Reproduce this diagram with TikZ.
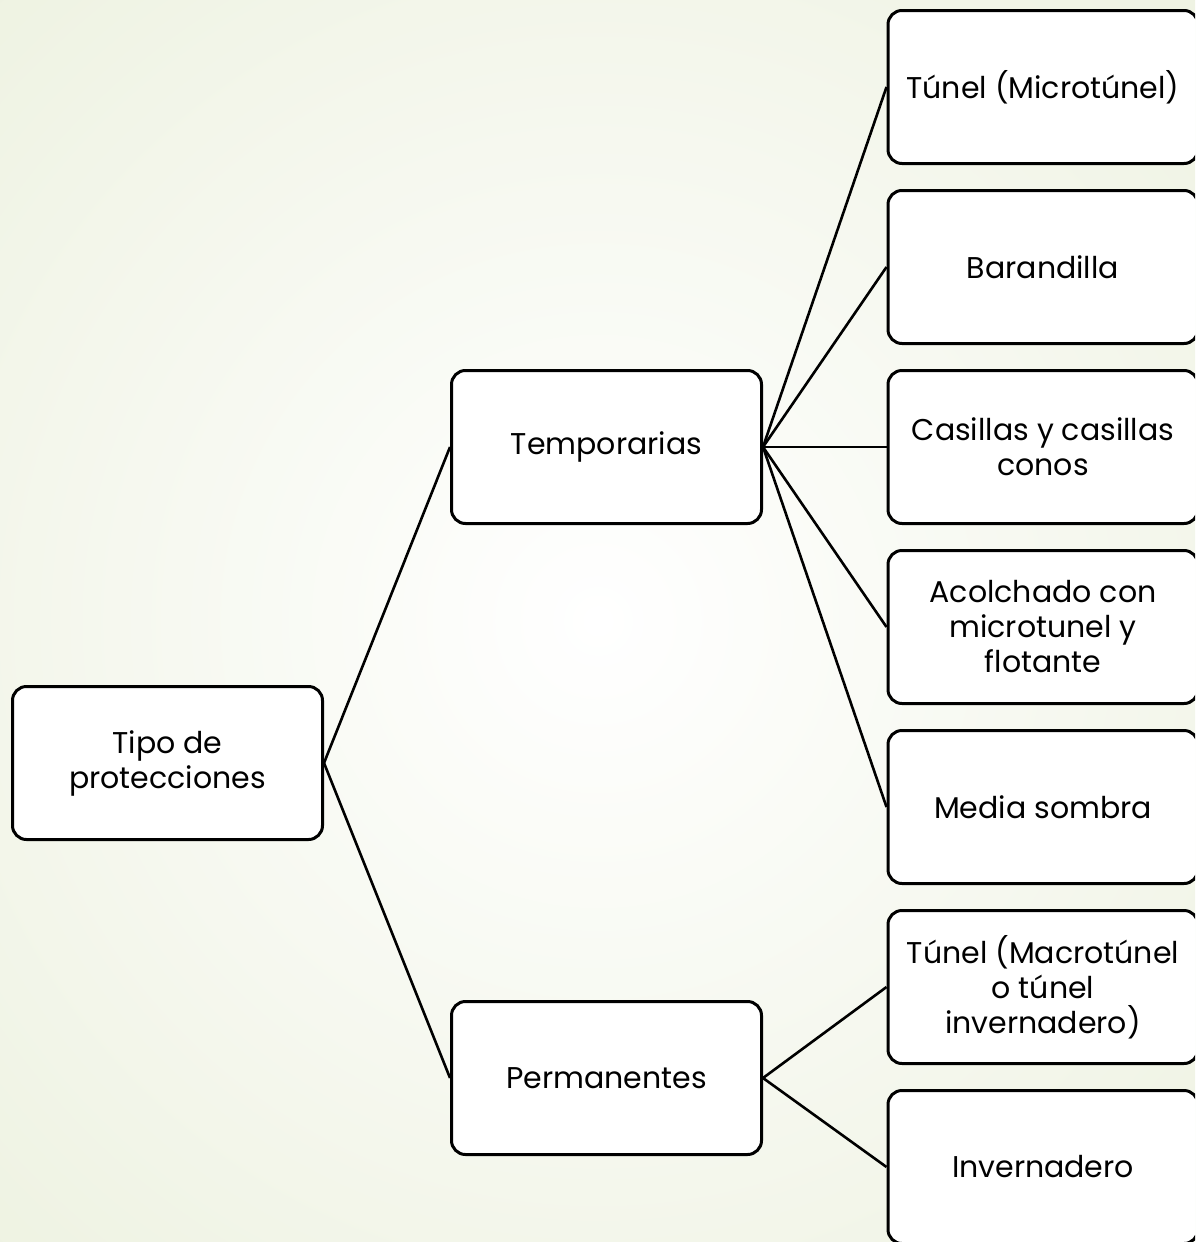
\documentclass[tikz,border=0pt]{standalone}
\usepackage{fontspec}
\setmainfont{Poppins}
\definecolor{fondo}{RGB}{222,230,198}
\tikzset{caja/.style = {draw, rounded corners=7pt, fill=white, line width=1.5pt,
                        minimum width=155pt, minimum height=76.5pt, align=center,
                        font=\fontsize{15}{17.5}\selectfont},
         rama/.style = {line width=1.3pt}
        }

\begin{document}
\begin{tikzpicture}[x=0.5pt,y=-0.5pt]
\clip (0,0) rectangle (1195,1242);
% fondo degradado
\shade[inner color=white, outer color=fondo] (-1122,-1099) rectangle (2318,2341);
\tikzstyle{every node}=[caja]
\node at (167.5,763) (r) {Tipo de\\protecciones};
\node at (606.5,447) (t) {Temporarias};
\node at (606.5,1078) (p) {Permanentes};
\node at (1043,87) (t1) {Túnel (Microtúnel)};
\node at (1043,267) (t2) {Barandilla};
\node at (1043,447) (t3) {Casillas y casillas\\conos};
\node at (1043,627) (t4) {Acolchado con\\microtunel y\\flotante};
\node at (1043,807) (t5) {Media sombra};
\node at (1043,987) (p1) {Túnel (Macrotúnel\\o túnel\\invernadero)};
\node at (1043,1167) (p2) {Invernadero};
\draw[rama] (r.east) -- (t.west);
\draw[rama] (r.east) -- (p.west);
\foreach \h in {t1,t2,t3,t4,t5}
  \draw[rama] (t.east) -- (\h.west);
\draw[rama] (p.east) -- (p1.west);
\draw[rama] (p.east) -- (p2.west);
\end{tikzpicture}
\end{document}
